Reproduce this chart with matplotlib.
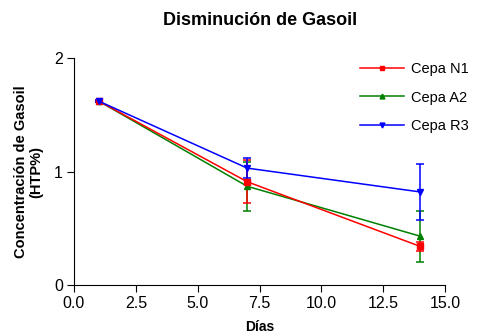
import matplotlib
matplotlib.use('Agg')
import matplotlib.pyplot as plt
from matplotlib.lines import Line2D

plt.rcParams['font.family'] = ['Liberation Sans', 'DejaVu Sans']

# dias de muestreo
dias = [1, 7, 14]

# concentracion HTP% por cepa y su error
n1 = [1.62, 0.91, 0.34]
n1_err = [0.01, 0.19, 0.04]
a2 = [1.62, 0.87, 0.43]
a2_err = [0.01, 0.215, 0.225]
r3 = [1.62, 1.03, 0.82]
r3_err = [0.01, 0.085, 0.25]

cepas = ['Cepa N1', 'Cepa A2', 'Cepa R3']
colores = ['#ff0000', '#008000', '#0000ff']
marcas = ['s', '^', 'v']

fig = plt.figure(figsize=(4.82, 3.35), dpi=100)
ax = fig.add_axes([0.1535, 0.149, 0.77, 0.678])

kw = dict(lw=1.1, elinewidth=1.1, capsize=3, capthick=1.1, markersize=4)
ax.errorbar(dias, a2, yerr=a2_err, color=colores[1], marker=marcas[1], **kw)
ax.errorbar(dias, n1, yerr=n1_err, color=colores[0], marker=marcas[0], **kw)
ax.errorbar(dias, r3, yerr=r3_err, color=colores[2], marker=marcas[2], **kw)

ax.set_xlim(0, 15)
ax.set_ylim(0, 2)
ax.set_xticks([0, 2.5, 5, 7.5, 10, 12.5, 15])
ax.set_xticklabels(['0.0', '2.5', '5.0', '7.5', '10.0', '12.5', '15.0'])
ax.set_yticks([0, 1, 2])
ax.spines['top'].set_visible(False)
ax.spines['right'].set_visible(False)
ax.tick_params(direction='out', length=5, labelsize=11.5, pad=3)

fig.text(0.54, 0.94, 'Disminución de Gasoil', fontsize=13, fontweight='bold',
         ha='center', va='center')
ax.set_xlabel('Días', fontsize=10, fontweight='bold', labelpad=6)
ax.set_ylabel('Concentración de Gasoil\n(HTP%)', fontsize=10.5, fontweight='bold',
              labelpad=8, linespacing=1.1)

handles = [Line2D([], [], color=c, marker=m, lw=1.1, markersize=3.5)
           for c, m in zip(colores, marcas)]
ax.legend(handles, cepas, loc='upper right', bbox_to_anchor=(1.1, 1.04), frameon=False,
          fontsize=10.5, handlelength=3.0, handletextpad=0.5, labelspacing=1.0)

plt.savefig('out.png', dpi=100)
